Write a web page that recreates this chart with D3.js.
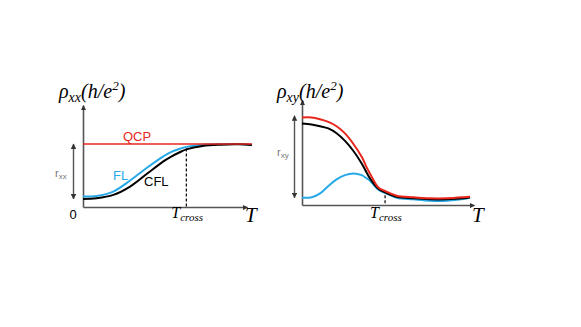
<!DOCTYPE html>
<html>
<head>
<meta charset="utf-8">
<script src="https://cdn.jsdelivr.net/npm/d3@7"></script>
<style>
  html, body { margin: 0; padding: 0; background: #fff; }
  svg { display: block; }
  .serif { font-family: "Liberation Serif", "DejaVu Serif", serif; font-style: italic; }
  .sans { font-family: "Liberation Sans", Arial, sans-serif; }
</style>
</head>
<body>
<svg id="chart"></svg>
<script>
// left panel: rho_xx vs T (normalised, QCP level = 1)
const xxT   = [0, 0.083, 0.185, 0.287, 0.388, 0.49, 0.53, 0.59, 0.63, 0.73, 0.84, 0.95, 1.03]
const xxQCP = [1, 1, 1, 1, 1, 1, 1, 1, 1, 1, 1, 1, 1]
const xxFL  = [0.165, 0.176, 0.245, 0.42, 0.62, 0.805, 0.865, 0.925, 0.955, 0.99, 1.0, 1.0, 0.99]
const xxCFL = [0.128, 0.139, 0.192, 0.325, 0.523, 0.725, 0.79, 0.87, 0.915, 0.97, 0.99, 0.995, 0.985]
const xxCross = 0.63
const xxCrossTop = 0.93

// right panel: rho_xy vs T
const xyT   = [0, 0.056, 0.105, 0.153, 0.201, 0.25, 0.298, 0.347, 0.376, 0.395, 0.444, 0.483, 0.55, 0.647, 0.744, 0.841, 0.938, 0.977]
const xyQCP = [1.0, 1.0, 0.98, 0.95, 0.9, 0.818, 0.7, 0.551, 0.43, 0.36, 0.2, 0.16, 0.106, 0.088, 0.076, 0.076, 0.088, 0.095]
const xyCFL = [0.932, 0.92, 0.9, 0.875, 0.82, 0.733, 0.62, 0.475, 0.37, 0.304, 0.185, 0.145, 0.095, 0.076, 0.065, 0.065, 0.076, 0.088]
const xyFL  = [0.083, 0.088, 0.133, 0.217, 0.293, 0.342, 0.361, 0.342, 0.304, 0.277, 0.175, 0.138, 0.083, 0.065, 0.049, 0.049, 0.068, 0.083]
const xyCross = 0.483
const xyCrossTop = 0.17

const w = 581
const h = 327
const red = "#e8261c"
const blue = "#27a9e8"
const axisColor = "#555"

const svg = d3.select("#chart").attr("width", w).attr("height", h)

const defs = svg.append("defs")
defs.append("marker")
  .attr("id", "arrow")
  .attr("viewBox", "0 0 10 10")
  .attr("refX", 9).attr("refY", 5)
  .attr("markerWidth", 5.5).attr("markerHeight", 5.5)
  .attr("markerUnits", "userSpaceOnUse")
  .attr("orient", "auto-start-reverse")
  .append("path")
  .attr("d", "M0,0L10,5L0,10z")
  .attr("fill", "#333")

function panel(o) {
  const g = svg.append("g")
  const x = d3.scaleLinear().domain([0, 1]).range(o.xRange)
  const y = d3.scaleLinear().domain(o.yDomain).range(o.yRange)

  const xAxis = g.append("g")
    .attr("transform", `translate(0,${o.yRange[0]})`)
    .call(d3.axisBottom(x).ticks(0).tickSizeOuter(0))
  const yAxis = g.append("g")
    .attr("transform", `translate(${o.xRange[0]},0)`)
    .call(d3.axisLeft(y).ticks(0).tickSizeOuter(0))
  for (const a of [xAxis, yAxis]) {
    a.select(".domain")
      .attr("stroke", axisColor)
      .attr("stroke-width", 1.6)
      .attr("marker-end", "url(#arrow)")
  }

  // double arrow marking the range
  g.append("line")
    .attr("x1", o.xRange[0] - o.barGap).attr("x2", o.xRange[0] - o.barGap)
    .attr("y1", y(o.bar[0])).attr("y2", y(o.bar[1]))
    .attr("stroke", axisColor).attr("stroke-width", 1.4)
    .attr("marker-start", "url(#arrow)").attr("marker-end", "url(#arrow)")

  const line = d3.line()
    .x((d, i) => x(o.T[i]))
    .y(d => y(d))
    .curve(d3.curveCatmullRom)

  const dash = o.cross
  g.append("line")
    .attr("x1", x(dash)).attr("x2", x(dash))
    .attr("y1", y(o.crossTop)).attr("y2", o.yRange[0])
    .attr("stroke", "#000").attr("stroke-width", 1.2)
    .attr("stroke-dasharray", "3,2")

  o.series.forEach(s => {
    g.append("path")
      .datum(s.values)
      .attr("d", line)
      .attr("fill", "none")
      .attr("stroke", s.color)
      .attr("stroke-width", s.width)
  })

  // labels
  const title = g.append("text").attr("class", "serif")
    .attr("x", o.titleX).attr("y", 98).attr("font-size", 20)
  title.append("tspan").text("ρ")
  title.append("tspan").attr("font-size", 14).attr("dy", 4).text(o.sub)
  title.append("tspan").attr("dy", -4).text("(h/e")
  title.append("tspan").attr("font-size", 13).attr("dy", -8).text("2")
  title.append("tspan").attr("dy", 8).text(")")

  const r = g.append("text").attr("class", "sans")
    .attr("x", o.rPos[0]).attr("y", o.rPos[1])
    .attr("fill", "#777").attr("font-size", 11)
  r.append("tspan").text("r")
  r.append("tspan").attr("font-size", 8).attr("dy", 2).text(o.sub)

  const tc = g.append("text").attr("class", "serif")
    .attr("x", x(dash) - 15).attr("y", 218).attr("font-size", 16)
  tc.append("tspan").text("T")
  tc.append("tspan").attr("font-size", 11).attr("dy", 3).text("cross")

  g.append("text").attr("class", "serif")
    .attr("x", o.xRange[1] - 2).attr("y", 222).attr("font-size", 21)
    .text("T")

  return { g, x, y }
}

const left = panel({
  xRange: [83, 247], yRange: [207, 105], yDomain: [0, 1.62],
  T: xxT, cross: xxCross, crossTop: xxCrossTop,
  bar: [xxCFL[0], 1.0], barGap: 9.5,
  titleX: 59, sub: "xx", rPos: [55, 177],
  series: [
    { values: xxFL, color: blue, width: 2 },
    { values: xxCFL, color: "#000", width: 2 },
    { values: xxQCP, color: red, width: 1.6 }
  ]
})

const right = panel({
  xRange: [302, 474], yRange: [205, 100], yDomain: [0, 1.2],
  T: xyT, cross: xyCross, crossTop: xyCrossTop,
  bar: [xyFL[0], 1.02], barGap: 7.5,
  titleX: 277, sub: "xy", rPos: [277, 156],
  series: [
    { values: xyFL, color: blue, width: 2 },
    { values: xyCFL, color: "#000", width: 2 },
    { values: xyQCP, color: red, width: 2 }
  ]
})

left.g.append("text").attr("class", "sans")
  .attr("x", 123).attr("y", 140.5).attr("font-size", 13).attr("fill", red).text("QCP")
left.g.append("text").attr("class", "sans")
  .attr("x", 113).attr("y", 179.5).attr("font-size", 13).attr("fill", blue).text("FL")
left.g.append("text").attr("class", "sans")
  .attr("x", 144).attr("y", 185.5).attr("font-size", 13).attr("fill", "#000").text("CFL")
left.g.append("text").attr("class", "sans")
  .attr("x", 73).attr("y", 219).attr("font-size", 13).attr("text-anchor", "middle").text("0")
</script>
</body>
</html>
